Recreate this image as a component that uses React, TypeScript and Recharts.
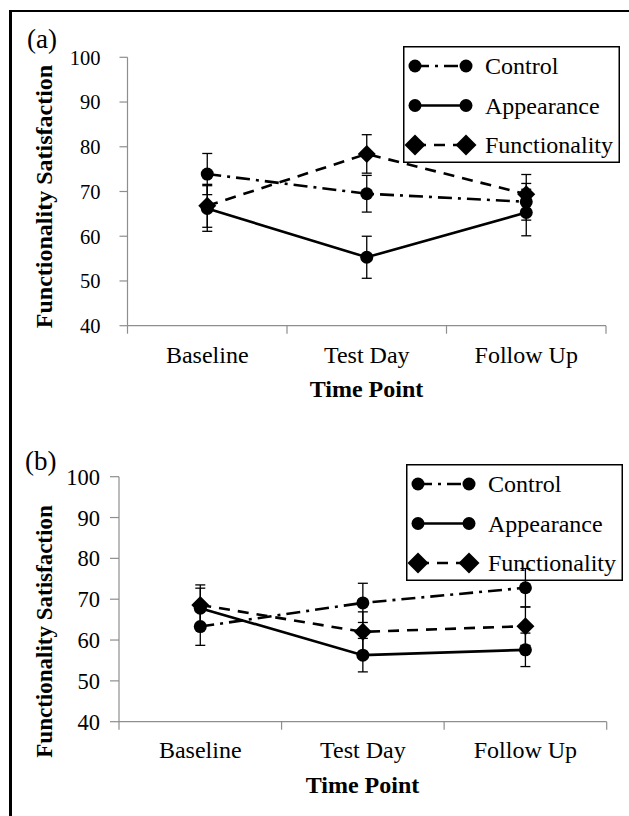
import React from 'react';
import { LineChart, Line, XAxis, YAxis, ErrorBar, Legend } from 'recharts';

// ---------- data ----------
const categories = ['Baseline', 'Test Day', 'Follow Up'];
const yTicks = [40, 50, 60, 70, 80, 90, 100];
const seriesKeys = ['control', 'appearance', 'functionality'];
const seriesNames = ['Control', 'Appearance', 'Functionality'];

// Panel (a)
const controlA = [73.9, 69.5, 67.7];
const controlAErr = [4.6, 4.1, 4.1];
const appearanceA = [66.2, 55.3, 65.3];
const appearanceAErr = [5.1, 4.7, 5.2];
const functionalityA = [66.8, 78.4, 69.4];
const functionalityAErr = [4.8, 4.3, 4.4];

// Panel (b)
const controlB = [63.3, 69.1, 72.8];
const controlBErr = [4.6, 4.8, 4.7];
const appearanceB = [67.8, 56.3, 57.6];
const appearanceBErr = [4.9, 4.1, 4.1];
const functionalityB = [68.6, 62.0, 63.4];
const functionalityBErr = [4.9, 4.9, 4.7];

const buildRows = (c: number[], ce: number[], a: number[], ae: number[], f: number[], fe: number[]) =>
  categories.map((t, i) => ({
    time: t,
    control: c[i],
    controlErr: ce[i],
    appearance: a[i],
    appearanceErr: ae[i],
    functionality: f[i],
    functionalityErr: fe[i],
  }));

const rowsA = buildRows(controlA, controlAErr, appearanceA, appearanceAErr, functionalityA, functionalityAErr);
const rowsB = buildRows(controlB, controlBErr, appearanceB, appearanceBErr, functionalityB, functionalityBErr);

// ---------- styles ----------
const FONT = '"Liberation Serif", "Times New Roman", Times, serif';
const AXIS = '#8e8e8e';
const INK = '#000';

const STYLES: Record<string, { dash?: string; marker: 'circle' | 'diamond' }> = {
  control: { dash: '14 6 3 6', marker: 'circle' },
  appearance: { dash: undefined, marker: 'circle' },
  functionality: { dash: '11 8', marker: 'diamond' },
};

const diamondDot = (props: any) => {
  const { cx, cy, index } = props;
  if (cx == null || cy == null) return <g key={`dd-${index}`} />;
  const h = 9;
  return (
    <path
      key={`dd-${index}`}
      d={`M${cx},${cy - h} L${cx + h},${cy} L${cx},${cy + h} L${cx - h},${cy} Z`}
      fill={INK}
    />
  );
};

const circleDot = { r: 6.5, fill: INK, stroke: INK, strokeWidth: 0 };

const renderLegend = (props: any) => {
  const items = [...(props.payload || [])].sort(
    (p: any, q: any) => seriesKeys.indexOf(p.dataKey) - seriesKeys.indexOf(q.dataKey)
  );
  const W = 217;
  const H = 117;
  return (
    <svg width={W} height={H} style={{ display: 'block', overflow: 'visible' }}>
      <rect x={0.75} y={0.75} width={W - 1.5} height={H - 1.5} fill="none" stroke={INK} strokeWidth={1.5} />
      {items.map((it: any, i: number) => {
        const st = STYLES[it.dataKey] || STYLES.appearance;
        const cy = 20 + i * 39.5;
        const x1 = 12;
        const x2 = 63;
        const mk = (x: number) =>
          st.marker === 'circle' ? (
            <circle cx={x} cy={cy} r={6.5} fill={INK} />
          ) : (
            <path d={`M${x},${cy - 10.5} L${x + 10.5},${cy} L${x},${cy + 10.5} L${x - 10.5},${cy} Z`} fill={INK} />
          );
        return (
          <g key={it.dataKey}>
            <line x1={x1} y1={cy} x2={x2} y2={cy} stroke={INK} strokeWidth={2.5} strokeDasharray={st.dash} />
            {mk(x1)}
            {mk(x2)}
            <text x={82} y={cy + 8} fontFamily={FONT} fontSize={24} fill={INK}>
              {it.value}
            </text>
          </g>
        );
      })}
    </svg>
  );
};

type PanelCfg = {
  top: number;
  height: number;
  margin: { top: number; right: number; bottom: number; left: number };
  yAxisWidth: number;
  xAxisHeight: number;
  yTickSize: number;
  yTickMargin: number;
  yTickFont: number;
  xTickSize: number;
  xTickMargin: number;
  yTitle: { x: number; y: number; size: number };
  xTitle: { x: number; y: number };
  letter: { text: string; x: number; y: number };
  legend: { left: number; top: number };
};

const makeXTick = (cfg: PanelCfg) => (props: any) => {
  const { x, y, payload, index, visibleTicksCount, width } = props;
  const plotW = 629 - cfg.margin.right - cfg.margin.left - cfg.yAxisWidth;
  const w = Number(width) || plotW;
  const count = visibleTicksCount || categories.length;
  const half = w / count / 2;
  const axisY = y - cfg.xTickSize - cfg.xTickMargin;
  return (
    <g>
      <line x1={x - half} y1={axisY} x2={x - half} y2={axisY + cfg.xTickSize} stroke={AXIS} strokeWidth={1.2} />
      {index === count - 1 ? (
        <line x1={x + half} y1={axisY} x2={x + half} y2={axisY + cfg.xTickSize} stroke={AXIS} strokeWidth={1.2} />
      ) : null}
      <text x={x} y={y} dy="0.71em" textAnchor="middle" fontFamily={FONT} fontSize={24} fill={INK}>
        {payload.value}
      </text>
    </g>
  );
};

const Panel = ({ rows, cfg }: { rows: any[]; cfg: PanelCfg }) => {
  const yTitle = () => (
    <g>
      <text
        x={cfg.letter.x}
        y={cfg.letter.y}
        fontFamily={FONT}
        fontSize={27}
        fill={INK}
      >
        {cfg.letter.text}
      </text>
      <text
        x={cfg.yTitle.x}
        y={cfg.yTitle.y}
        transform={`rotate(-90 ${cfg.yTitle.x} ${cfg.yTitle.y})`}
        textAnchor="middle"
        fontFamily={FONT}
        fontWeight="bold"
        fontSize={cfg.yTitle.size}
        fill={INK}
      >
        Functionality Satisfaction
      </text>
    </g>
  );
  const xTitle = () => (
    <text
      x={cfg.xTitle.x}
      y={cfg.xTitle.y}
      textAnchor="middle"
      fontFamily={FONT}
      fontWeight="bold"
      fontSize={24}
      fill={INK}
    >
      Time Point
    </text>
  );
  return (
    <div style={{ position: 'absolute', left: 0, top: cfg.top, width: 629, height: cfg.height }}>
      <LineChart width={629} height={cfg.height} data={rows} margin={cfg.margin}>
        <XAxis
          dataKey="time"
          type="category"
          scale="band"
          height={cfg.xAxisHeight}
          axisLine={{ stroke: AXIS, strokeWidth: 1.2 }}
          tickLine={false}
          tickSize={cfg.xTickSize}
          tickMargin={cfg.xTickMargin}
          interval={0}
          tick={makeXTick(cfg)}
          label={{ content: xTitle }}
        />
        <YAxis
          type="number"
          domain={[40, 100]}
          allowDataOverflow
          ticks={yTicks}
          interval={0}
          width={cfg.yAxisWidth}
          axisLine={{ stroke: AXIS, strokeWidth: 1.2 }}
          tickLine={{ stroke: AXIS, strokeWidth: 1.2 }}
          tickSize={cfg.yTickSize}
          tickMargin={cfg.yTickMargin}
          tick={{ fill: INK, fontSize: cfg.yTickFont, fontFamily: FONT }}
          label={{ content: yTitle }}
        />
        <Legend
          layout="horizontal"
          verticalAlign="middle"
          align="center"
          content={renderLegend}
          wrapperStyle={{ position: 'absolute', left: cfg.legend.left, top: cfg.legend.top, width: 217, height: 117 }}
        />
        {seriesKeys.map((k, i) => (
          <Line
            key={k}
            dataKey={k}
            name={seriesNames[i]}
            type="linear"
            stroke={INK}
            strokeWidth={2.6}
            strokeDasharray={STYLES[k].dash}
            dot={STYLES[k].marker === 'diamond' ? diamondDot : circleDot}
            activeDot={false}
            isAnimationActive={false}
          >
            <ErrorBar dataKey={`${k}Err`} direction="y" width={5} stroke={INK} strokeWidth={1.3} />
          </Line>
        ))}
      </LineChart>
    </div>
  );
};

const cfgA: PanelCfg = {
  top: 0,
  height: 410,
  margin: { top: 57.3, right: 23, bottom: 0, left: 0 },
  yAxisWidth: 127.5,
  xAxisHeight: 84.3,
  yTickSize: 8,
  yTickMargin: 19,
  yTickFont: 20.5,
  xTickSize: 8,
  xTickMargin: 12.5,
  yTitle: { x: 51.5, y: 196.5, size: 24 },
  xTitle: { x: 366.5, y: 397 },
  letter: { text: '(a)', x: 27, y: 48 },
  legend: { left: 403, top: 46 },
};

const cfgB: PanelCfg = {
  top: 410,
  height: 406,
  margin: { top: 66.7, right: 22.3, bottom: 0, left: 0 },
  yAxisWidth: 119,
  xAxisHeight: 94.3,
  yTickSize: 9,
  yTickMargin: 10,
  yTickFont: 22.5,
  xTickSize: 8,
  xTickMargin: 11,
  yTitle: { x: 51.5, y: 221.5, size: 23 },
  xTitle: { x: 362.5, y: 382.7 },
  letter: { text: '(b)', x: 25, y: 60 },
  legend: { left: 406, top: 54 },
};

export default function App() {
  return (
    <div style={{ position: 'absolute', left: 0, top: 0, width: 629, height: 816, background: '#fff', overflow: 'hidden' }}>
      <div
        style={{
          position: 'absolute',
          left: 9,
          top: 9.5,
          width: 700,
          height: 900,
          borderTop: '2.5px solid #000',
          borderLeft: '3px solid #000',
        }}
      />
      <Panel rows={rowsA} cfg={cfgA} />
      <Panel rows={rowsB} cfg={cfgB} />
    </div>
  );
}
